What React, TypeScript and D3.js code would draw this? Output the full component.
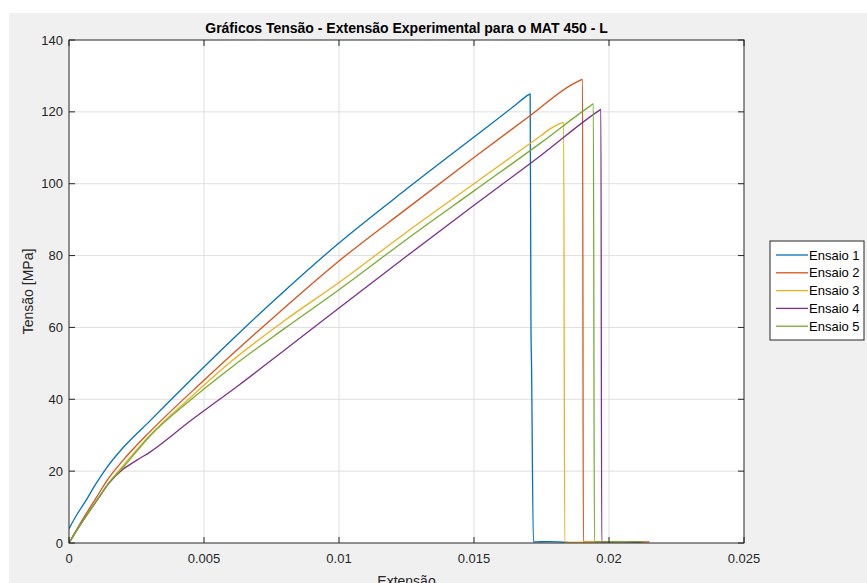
import React from "react";
import * as d3 from "d3";

// Stress–strain curves for five tensile tests of MAT 450 - L
const strain1 = [0, 0.0003, 0.0006, 0.001, 0.0014, 0.002, 0.003, 0.0045, 0.006, 0.008, 0.01, 0.0125, 0.015, 0.0165, 0.01703, 0.01708, 0.01711, 0.01713, 0.0172, 0.0178, 0.0185];
const stress1 = [4, 8, 11.5, 16.5, 21, 26.5, 34, 45.3, 56.3, 70.3, 83.5, 98.5, 113, 121.7, 124.8, 125, 60, 50, 0.3, 0.4, 0.2];

const strain2 = [0, 0.0005, 0.001, 0.0014, 0.002, 0.003, 0.005, 0.0075, 0.01, 0.0125, 0.015, 0.017, 0.0188, 0.01902, 0.01905, 0.0205, 0.0215];
const stress2 = [0, 6.5, 12.5, 17.3, 23, 31, 45.3, 62.3, 78.5, 93, 107.3, 118.5, 128.3, 129, 0.3, 0.4, 0.3];

const strain3 = [0, 0.0005, 0.001, 0.0014, 0.002, 0.003, 0.0045, 0.006, 0.008, 0.01, 0.0125, 0.015, 0.0175, 0.01785, 0.0182, 0.01832, 0.01836, 0.0195];
const stress3 = [0, 6, 11.5, 16, 21.5, 30, 40.5, 50.5, 62, 72.5, 86.5, 100, 113.5, 115.4, 116.8, 117.1, 0.2, 0.3];

const strain4 = [0, 0.0005, 0.001, 0.0015, 0.002, 0.0025, 0.003, 0.0045, 0.005, 0.0063, 0.008, 0.01, 0.0125, 0.015, 0.0175, 0.0196, 0.0197, 0.01973, 0.0205, 0.0212];
const stress4 = [0, 6, 11.5, 16.8, 20.5, 23, 25.3, 34, 36.8, 44, 53.8, 65.4, 79.8, 94, 108, 120.2, 120.7, 0.3, 0.4, 0.2];

const strain5 = [0, 0.0005, 0.001, 0.0014, 0.002, 0.003, 0.0045, 0.006, 0.008, 0.01, 0.0125, 0.015, 0.0175, 0.0193, 0.01942, 0.01946, 0.0205, 0.0213];
const stress5 = [0, 6, 11.5, 16, 21, 29.8, 39.8, 48.8, 59.8, 70.5, 84.5, 98, 111.5, 121.6, 122.2, 0.3, 0.4, 0.3];

const seriesNames = ["Ensaio 1", "Ensaio 2", "Ensaio 3", "Ensaio 4", "Ensaio 5"];
const seriesColors = ["#0072BD", "#D95319", "#EDB120", "#7E2F8E", "#77AC30"];
const strains = [strain1, strain2, strain3, strain4, strain5];
const stresses = [stress1, stress2, stress3, stress4, stress5];

const xTicks = [0, 0.005, 0.01, 0.015, 0.02, 0.025];
const xTickLabels = ["0", "0.005", "0.01", "0.015", "0.02", "0.025"];
const yTicks = [0, 20, 40, 60, 80, 100, 120, 140];

const W = 867;
const H = 583;
const plot = { left: 69, right: 744, top: 40, bottom: 543 };
const axisColor = "#262626";
const gridColor = "#dfdfdf";
const font = "'Liberation Sans', Arial, Helvetica, sans-serif";

export default function App() {
  const x = d3.scaleLinear().domain([0, 0.025]).range([plot.left, plot.right]);
  const y = d3.scaleLinear().domain([0, 140]).range([plot.bottom, plot.top]);

  const line = d3
    .line<[number, number]>()
    .x((d) => x(d[0]))
    .y((d) => y(d[1]))
    .curve(d3.curveMonotoneX);

  const tickLen = 6;
  const legend = { x: 770, y: 241, w: 94, h: 99 };
  const rowH = 17.8;

  return (
    <svg
      width={W}
      height={H}
      style={{ position: "absolute", left: 0, top: 0, display: "block" }}
      fontFamily={font}
    >
      <defs>
        <clipPath id="plotClip">
          <rect x={plot.left} y={plot.top - 2} width={plot.right - plot.left} height={plot.bottom - plot.top + 2} />
        </clipPath>
      </defs>
      <rect x={0} y={0} width={W} height={H} fill="#ffffff" />
      <rect x={9} y={13} width={W - 9} height={H - 13} fill="#f0f0f0" />
      <rect
        x={plot.left}
        y={plot.top}
        width={plot.right - plot.left}
        height={plot.bottom - plot.top}
        fill="#ffffff"
      />

      {/* grid */}
      {xTicks.slice(1, -1).map((t) => (
        <line key={"gx" + t} x1={x(t)} x2={x(t)} y1={plot.top} y2={plot.bottom} stroke={gridColor} strokeWidth={1} />
      ))}
      {yTicks.slice(1, -1).map((t) => (
        <line key={"gy" + t} x1={plot.left} x2={plot.right} y1={y(t)} y2={y(t)} stroke={gridColor} strokeWidth={1} />
      ))}

      {/* curves */}
      <g clipPath="url(#plotClip)">
        {strains.map((xs, i) => (
          <path
            key={seriesNames[i]}
            d={line(xs.map((v, j) => [v, stresses[i][j]] as [number, number])) || ""}
            fill="none"
            stroke={seriesColors[i]}
            strokeWidth={1.3}
            strokeLinejoin="round"
          />
        ))}
      </g>

      {/* axes box and ticks */}
      <rect
        x={plot.left}
        y={plot.top}
        width={plot.right - plot.left}
        height={plot.bottom - plot.top}
        fill="none"
        stroke={axisColor}
        strokeWidth={1}
      />
      {xTicks.map((t) => (
        <g key={"tx" + t}>
          <line x1={x(t)} x2={x(t)} y1={plot.bottom} y2={plot.bottom - tickLen} stroke={axisColor} />
          <line x1={x(t)} x2={x(t)} y1={plot.top} y2={plot.top + tickLen} stroke={axisColor} />
        </g>
      ))}
      {yTicks.map((t) => (
        <g key={"ty" + t}>
          <line x1={plot.left} x2={plot.left + tickLen} y1={y(t)} y2={y(t)} stroke={axisColor} />
          <line x1={plot.right} x2={plot.right - tickLen} y1={y(t)} y2={y(t)} stroke={axisColor} />
        </g>
      ))}

      {/* tick labels */}
      {xTicks.map((t, i) => (
        <text key={"lx" + t} x={x(t)} y={plot.bottom + 20} textAnchor="middle" fontSize={13} fill={axisColor}>
          {xTickLabels[i]}
        </text>
      ))}
      {yTicks.map((t) => (
        <text key={"ly" + t} x={plot.left - 6} y={y(t) + 4.5} textAnchor="end" fontSize={13} fill={axisColor}>
          {t}
        </text>
      ))}

      {/* titles */}
      <text x={(plot.left + plot.right) / 2} y={33} textAnchor="middle" fontSize={14} fontWeight="bold" fill="#000">
        Gráficos Tensão - Extensão Experimental para o MAT 450 - L
      </text>
      <text x={(plot.left + plot.right) / 2} y={586} textAnchor="middle" fontSize={14} fill={axisColor}>
        Extensão
      </text>
      <text
        transform={`translate(33, ${(plot.top + plot.bottom) / 2}) rotate(-90)`}
        textAnchor="middle"
        fontSize={14}
        fill={axisColor}
      >
        Tensão [MPa]
      </text>

      {/* legend */}
      <rect x={legend.x} y={legend.y} width={legend.w} height={legend.h} fill="#ffffff" stroke={axisColor} strokeWidth={1} />
      {seriesNames.map((name, i) => {
        const cy = legend.y + 14 + i * rowH;
        return (
          <g key={"lg" + name}>
            <line x1={legend.x + 6} x2={legend.x + 38} y1={cy} y2={cy} stroke={seriesColors[i]} strokeWidth={1.3} />
            <text x={legend.x + 39} y={cy + 4.5} fontSize={13} fill="#000">
              {name}
            </text>
          </g>
        );
      })}
    </svg>
  );
}
